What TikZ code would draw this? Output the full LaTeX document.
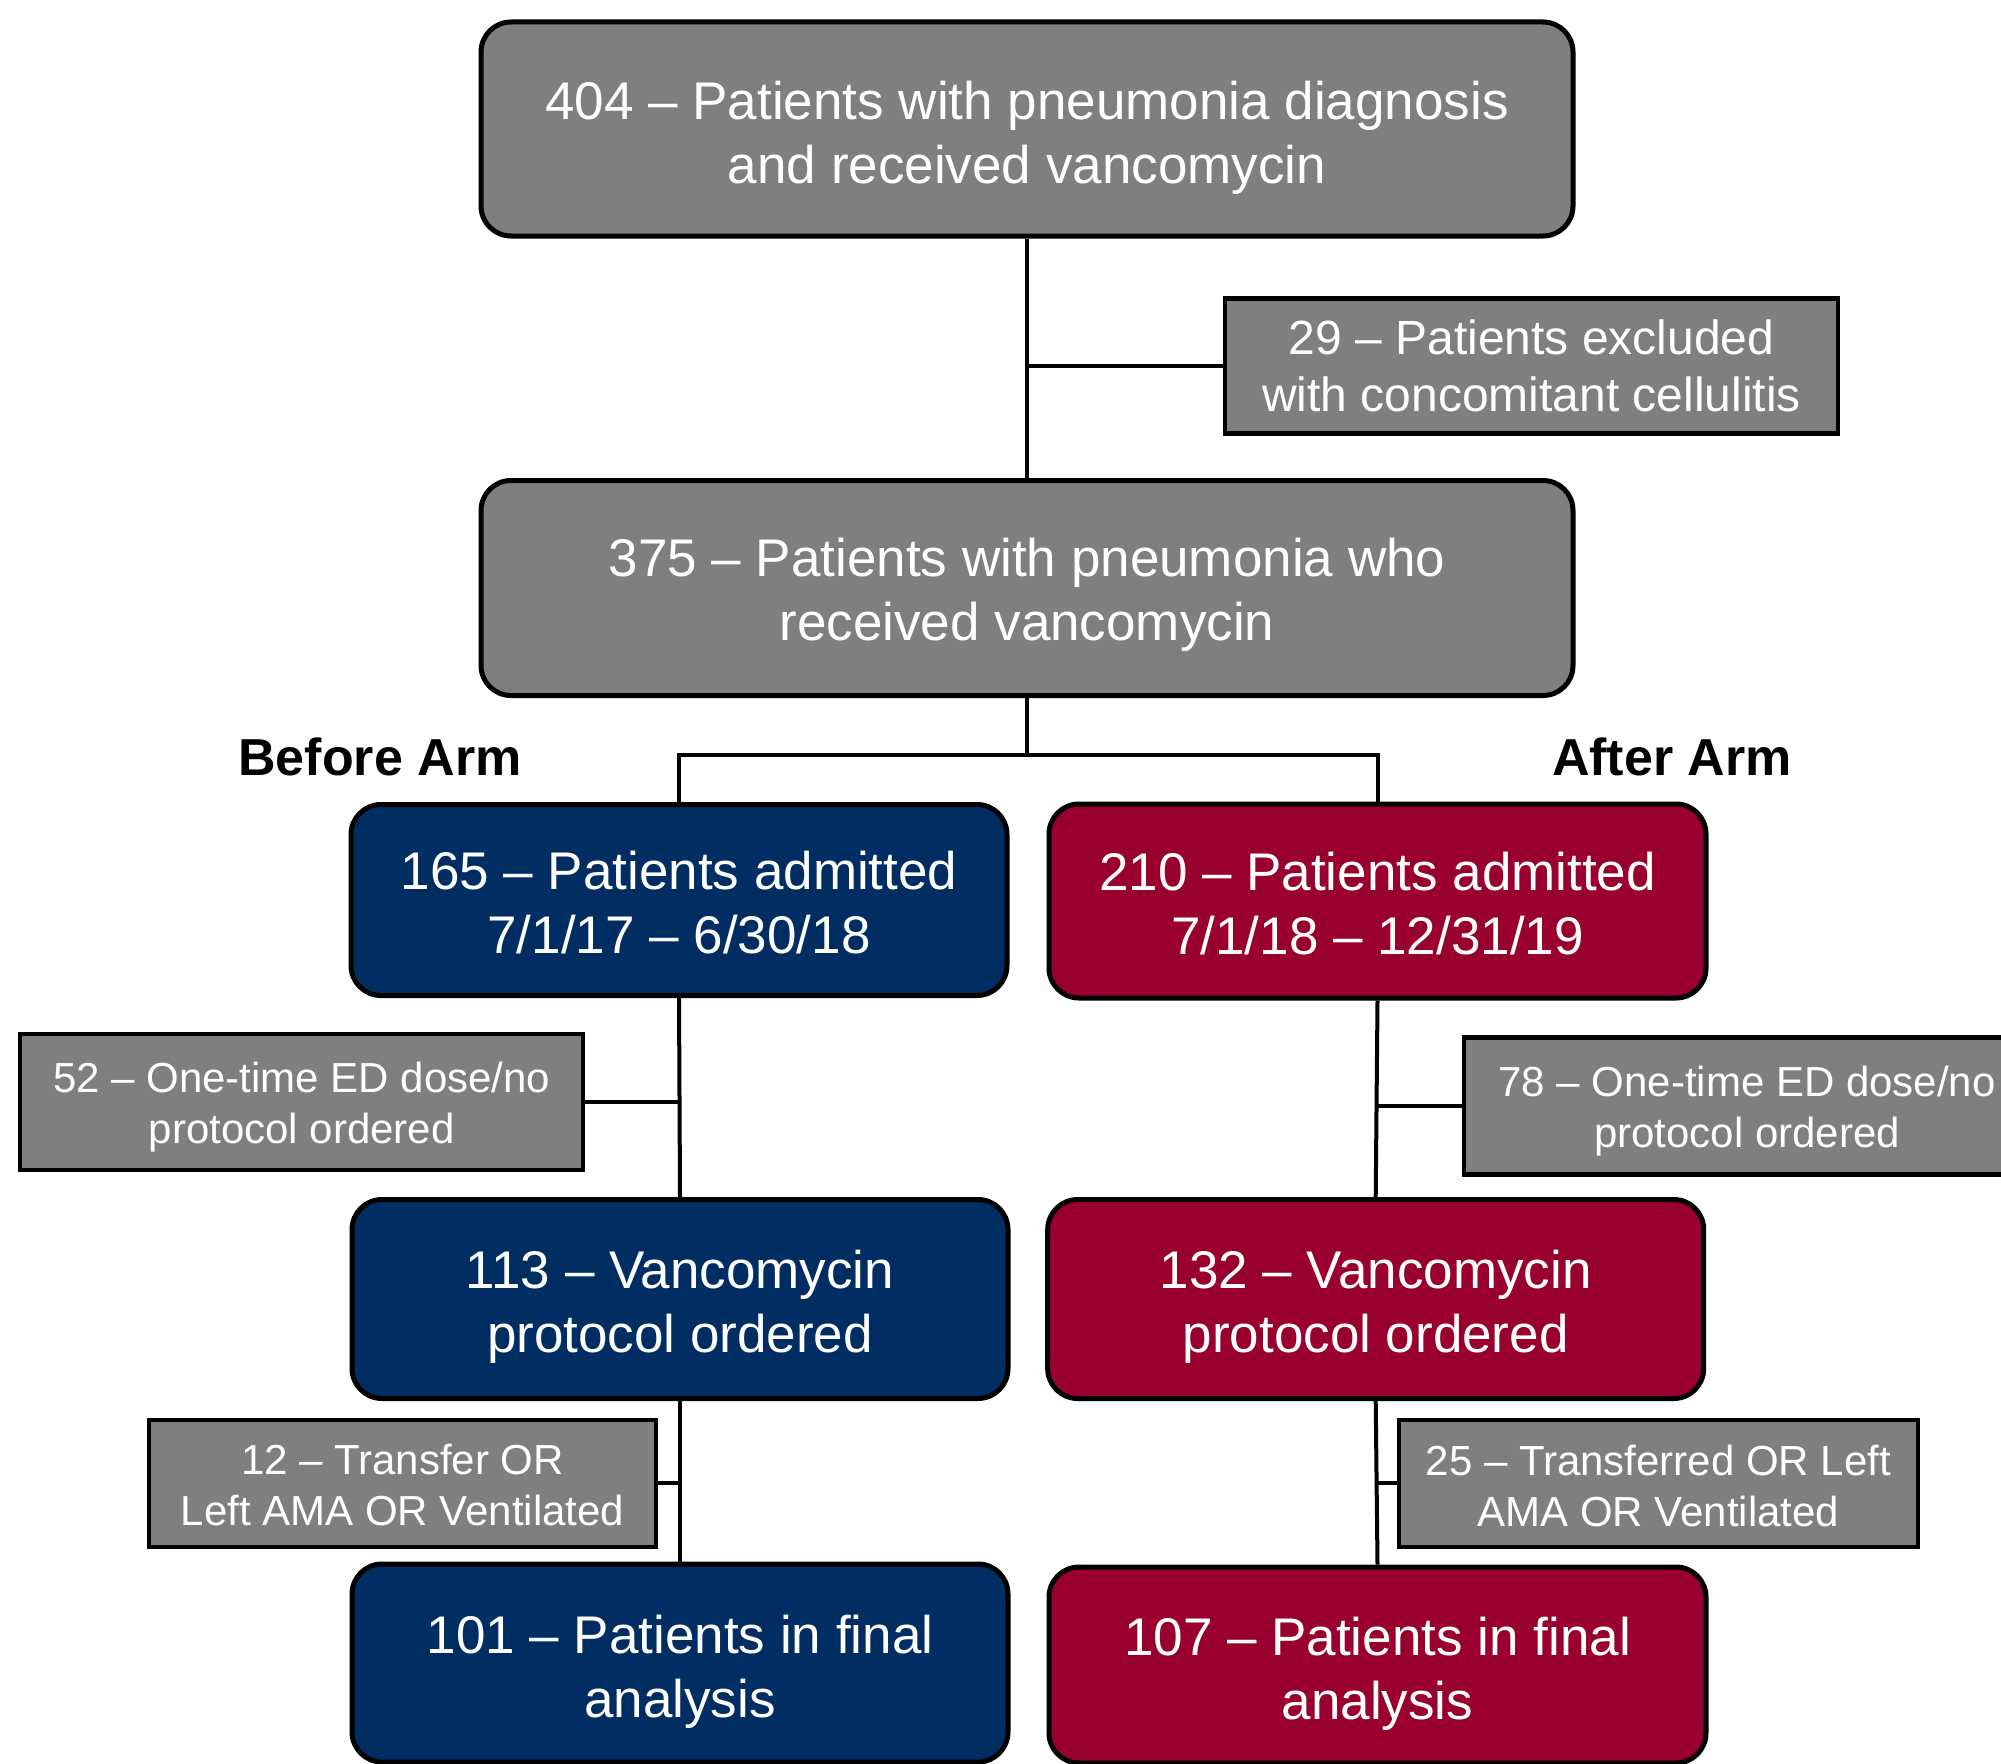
\documentclass[tikz,border=0pt]{standalone}
\usepackage{fontspec}
\setmainfont{Liberation Sans}
\definecolor{boxgray}{RGB}{127,127,127}
\definecolor{navy}{RGB}{0,45,98}
\definecolor{maroon}{RGB}{153,0,48}
\newcommand\mytsh[1]{\rule{0pt}{\dimexpr 38pt+#1pt*2\relax}}
\newcommand\mysth[1]{\rule{0pt}{\dimexpr 30pt+#1pt*2\relax}}
\tikzset{
  mainbox/.style={draw=black, line width=5pt, rounded corners=30pt, text=white, align=center, inner sep=0pt,
    font=\fontsize{53}{64}\selectfont},
  graybox/.style={mainbox, fill=boxgray},
  navybox/.style={mainbox, fill=navy},
  maroonbox/.style={mainbox, fill=maroon},
  excl/.style={draw=black, line width=4.5pt, fill=boxgray, text=white, align=center, inner sep=0pt,
    font=\fontsize{42}{51}\selectfont},
  conn/.style={draw=black, line width=4pt},
  armlabel/.style={font=\fontsize{52}{60}\selectfont\bfseries, text=black, inner sep=0pt}
}
\begin{document}
\begin{tikzpicture}[x=1pt,y=-1pt]
\useasboundingbox (0,0) rectangle (2001,1763);
\clip (0,0) rectangle (2001,1763);
% nodes
\node[graybox, minimum width=1092pt, minimum height=214pt] (top) at (1027,129) {\mytsh{9}404 -- Patients with pneumonia diagnosis\\and received vancomycin};
\node[excl, minimum width=613pt, minimum height=135pt, font=\fontsize{48}{57.5}\selectfont] (b29) at (1531.5,366) {29 -- Patients excluded\\with concomitant cellulitis};
\node[graybox, minimum width=1092pt, minimum height=215pt] (b375) at (1027,588) {\mytsh{6.5}375 -- Patients with pneumonia who\\received vancomycin};
\node[armlabel] (before) at (380,757) {Before Arm};
\node[armlabel] (after) at (1672,757) {After Arm};
\node[navybox, minimum width=656pt, minimum height=191pt] (b165) at (679,900) {\mytsh{2.5}165 -- Patients admitted\\7/1/17 -- 6/30/18};
\node[maroonbox, minimum width=657pt, minimum height=194pt] (b210) at (1377.5,901) {\mytsh{2.5}210 -- Patients admitted\\7/1/18 -- 12/31/19};
\node[excl, minimum width=563pt, minimum height=136pt] (b52) at (301.7,1102) {\mysth{5}52 -- One-time ED dose/no\\protocol ordered};
\node[excl, minimum width=566pt, minimum height=137pt] (b78) at (1747,1106) {\mysth{5}78 -- One-time ED dose/no\\protocol ordered};
\node[navybox, minimum width=656pt, minimum height=199pt] (b113) at (680,1299) {\mytsh{7.5}113 -- Vancomycin\\protocol ordered};
\node[maroonbox, minimum width=656pt, minimum height=199pt] (b132) at (1375.7,1299) {\mytsh{7.5}132 -- Vancomycin\\protocol ordered};
\node[excl, minimum width=507pt, minimum height=127pt] (b12) at (402.5,1483.4) {\mysth{1.5}12 -- Transfer OR\\Left AMA OR Ventilated};
\node[excl, minimum width=519pt, minimum height=127pt] (b25) at (1658.4,1483.4) {\mysth{3}25 -- Transferred OR Left\\AMA OR Ventilated};
\node[navybox, minimum width=656pt, minimum height=198pt] (b101) at (680,1663) {\mytsh{9}101 -- Patients in final\\analysis};
\node[maroonbox, minimum width=657pt, minimum height=196pt] (b107) at (1377.5,1665) {\mytsh{9}107 -- Patients in final\\analysis};
% connectors
\coordinate (split) at (1027,755);
\draw[conn] (top.south) -- (b375.north);
\draw[conn] (b29.west) -- (b29.west -| top.south);
\draw[conn] (b375.south) -- (split);
\draw[conn] (b165.north) |- (split) -| (b210.north);
\draw[conn] (b165.south) -- (b113.north);
\draw[conn] (b52.east) -- (b52.east -| b165.south);
\draw[conn] (b113.south) -- (b101.north);
\draw[conn] (b12.east) -- (b12.east -| b113.south);
\draw[conn] (b210.south) -- (b132.north);
\draw[conn] (b78.west) -- (b78.west -| b210.south);
\draw[conn] (b132.south) -- (b107.north);
\draw[conn] (b25.west) -- (b25.west -| b132.south);
\end{tikzpicture}
\end{document}
